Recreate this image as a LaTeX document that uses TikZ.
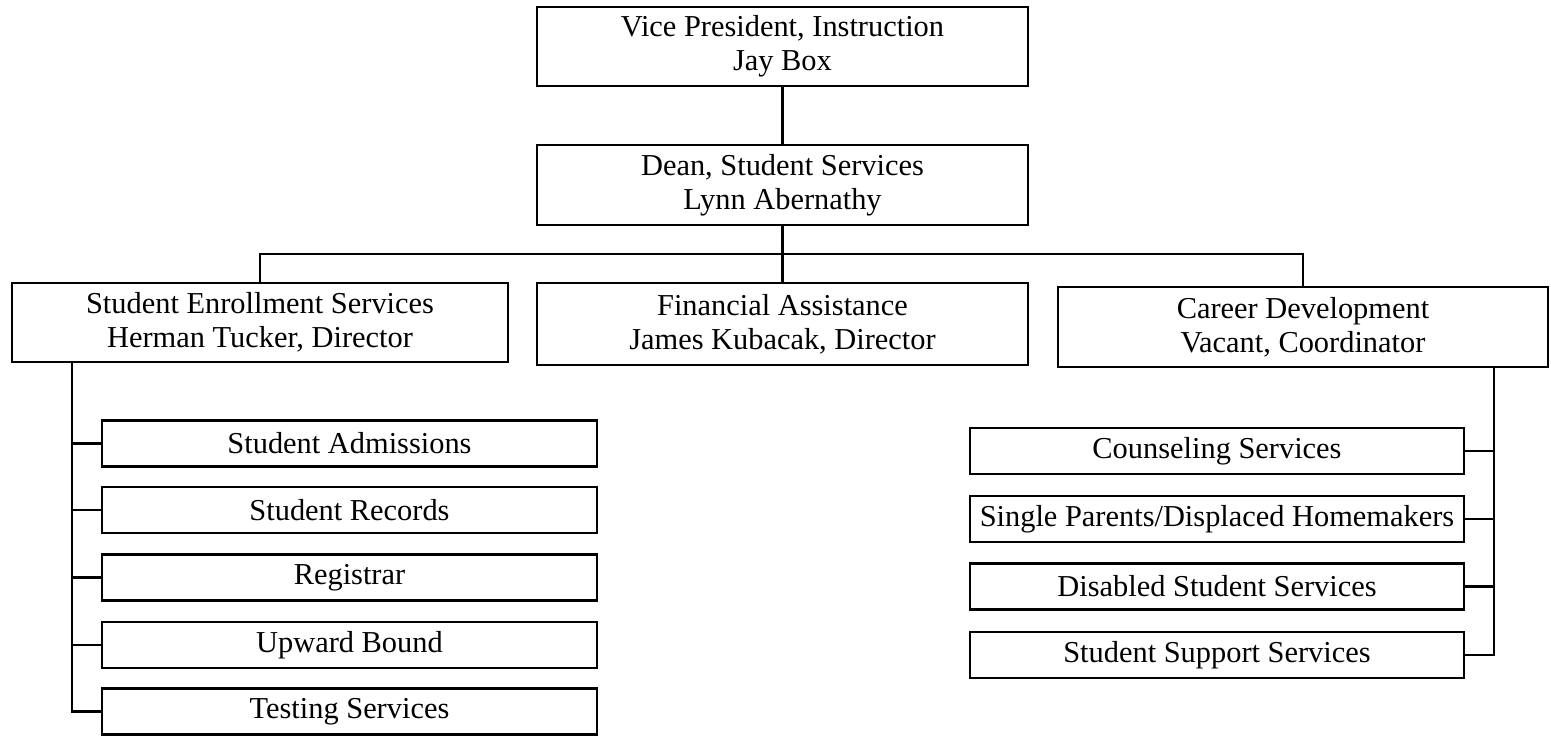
\documentclass[tikz,border=0pt]{standalone}
\usepackage{fontspec}
\setmainfont{Liberation Serif}
\begin{document}
\begin{tikzpicture}[x=1pt,y=-1pt,
  box/.style={draw, line width=2.2pt, inner sep=2pt, align=center,
    font=\fontsize{30.4}{34}\selectfont},
  subbox/.style={box, minimum height=46pt},
  conn/.style={line width=2.2pt}]
\useasboundingbox (0,0) rectangle (1551,737);
% top
\node[box, minimum width=491pt, minimum height=79pt] (vp) at (782.5,46.5) {Vice President, Instruction\\Jay Box};
\node[box, minimum width=491pt, minimum height=80pt] (dean) at (782.5,185) {Dean, Student Services\\Lynn Abernathy};
% second level
\node[box, minimum width=496pt, minimum height=79pt] (ses) at (260,322.5) {Student Enrollment Services\\Herman Tucker, Director};
\node[box, minimum width=491pt, minimum height=82pt] (fa) at (782.5,324) {Financial Assistance\\James Kubacak, Director};
\node[box, minimum width=490pt, minimum height=80pt] (cd) at (1303,327) {Career Development\\Vacant, Coordinator};
% left sub boxes
\node[subbox, minimum width=495pt] (adm) at (349.5,443.5) {Student Admissions};
\node[subbox, minimum width=495pt] (rec) at (349.5,510) {Student Records};
\node[subbox, minimum width=495pt] (reg) at (349.5,577.5) {Registrar};
\node[subbox, minimum width=495pt] (up) at (349.5,645) {Upward Bound};
\node[subbox, minimum width=495pt] (test) at (349.5,711.5) {Testing Services};
% right sub boxes
\node[subbox, minimum width=494pt] (couns) at (1217,451) {Counseling Services};
\node[subbox, minimum width=494pt] (single) at (1217,519) {Single Parents/Displaced Homemakers};
\node[subbox, minimum width=494pt] (dis) at (1217,586.5) {Disabled Student Services};
\node[subbox, minimum width=494pt] (supp) at (1217,655) {Student Support Services};
% connectors
\draw[conn] (vp.south) -- (dean.north);
\draw[conn] (dean.south) -- (fa.north);
\coordinate (bar) at (260,254);
\draw[conn] (ses.north) -- (bar) -| (cd.north);
\coordinate (ls) at ([xshift=61pt]ses.south west);
\draw[conn] (ls) |- (test.west);
\foreach \n in {adm,rec,reg,up}{\draw[conn] (\n.west -| ls) -- (\n.west);}
\coordinate (rs) at ([xshift=-55pt]cd.south east);
\draw[conn] (rs) |- (supp.east);
\foreach \n in {couns,single,dis}{\draw[conn] (\n.east -| rs) -- (\n.east);}
\end{tikzpicture}
\end{document}
